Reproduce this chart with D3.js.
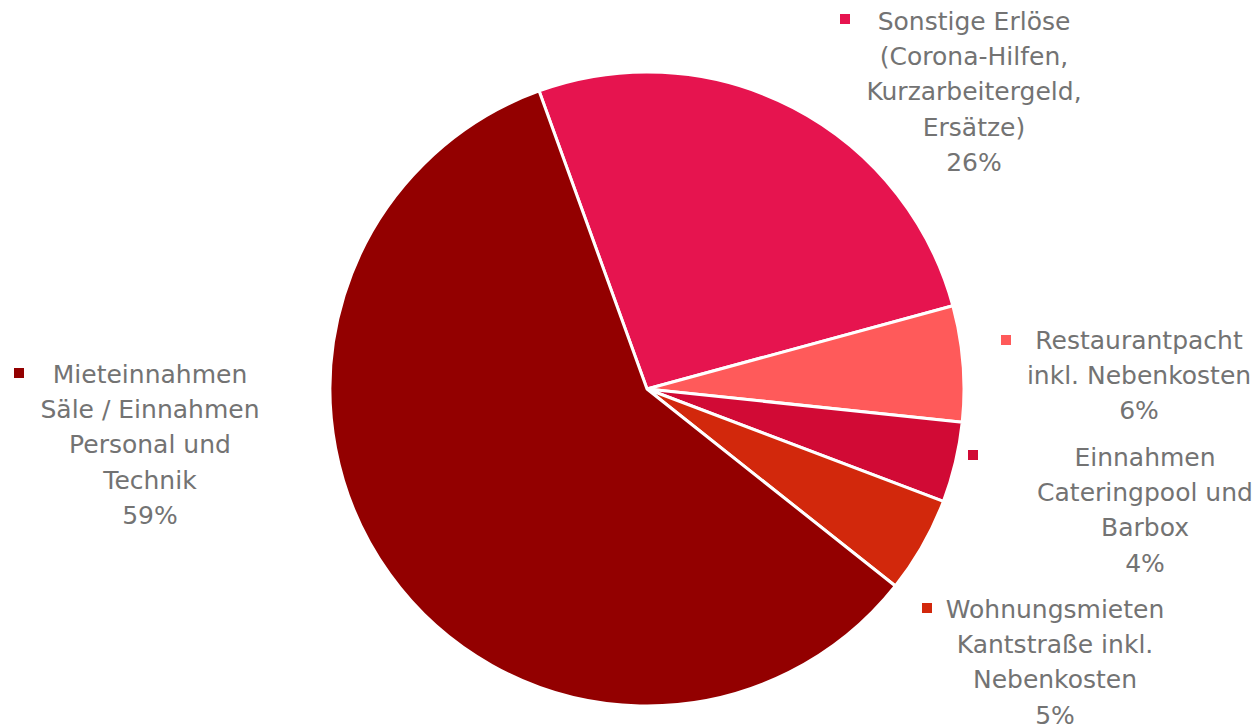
<!DOCTYPE html>
<html><head><meta charset="utf-8">
<script src="https://cdn.jsdelivr.net/npm/d3@7/dist/d3.min.js"></script>
<style>html,body{margin:0;padding:0;background:#fff;overflow:hidden}</style>
</head><body><svg id="c" width="1253" height="725"></svg>
<script>
const categories = [
  "Sonstige Erlöse (Corona-Hilfen, Kurzarbeitergeld, Ersätze)",
  "Restaurantpacht inkl. Nebenkosten",
  "Einnahmen Cateringpool und Barbox",
  "Wohnungsmieten Kantstraße inkl. Nebenkosten",
  "Mieteinnahmen Säle / Einnahmen Personal und Technik"
];
const values = [26.3, 5.9, 4.1, 4.9, 58.8];
const labelLines = [
  ["Sonstige Erlöse", "(Corona-Hilfen,", "Kurzarbeitergeld,", "Ersätze)"],
  ["Restaurantpacht", "inkl. Nebenkosten"],
  ["Einnahmen", "Cateringpool und", "Barbox"],
  ["Wohnungsmieten", "Kantstraße inkl.", "Nebenkosten"],
  ["Mieteinnahmen", "Säle / Einnahmen", "Personal und", "Technik"]
];
const colors = ["#E6144F", "#FF5A5A", "#D10A35", "#D2280C", "#930000"];

// layout (label block centre x, first line centre y, marker x,y)
const labelLayout = [
  {cx: 974, y: 21, mx: 845, my: 19},
  {cx: 1139, y: 340, mx: 1006, my: 340},
  {cx: 1145, y: 457, mx: 973, my: 455},
  {cx: 1055, y: 609, mx: 927, my: 608},
  {cx: 150, y: 374, mx: 19, my: 373}
];

const svg = d3.select("#c");
const cx = 647, cy = 389, r = 317;
const pie = d3.pie().sort(null).value(d => d)
  .startAngle(-19.9 * Math.PI / 180).endAngle((360 - 19.9) * Math.PI / 180);
const arcs = pie(values);
const arc = d3.arc().innerRadius(0).outerRadius(r);
const g = svg.append("g").attr("transform", `translate(${cx},${cy})`);
g.selectAll("path").data(arcs).join("path")
  .attr("d", arc).attr("fill", (d, i) => colors[i])
  .attr("stroke", "#fff").attr("stroke-width", 3).attr("stroke-linejoin", "round");

const lineH = 35.2;
const font = "'DejaVu Sans', sans-serif";
labelLayout.forEach((L, i) => {
  const lines = labelLines[i].concat([Math.round(values[i]) + "%"]);
  const t = svg.append("text").attr("text-anchor", "middle")
    .attr("font-family", font).attr("font-size", 25).attr("fill", "#737373");
  lines.forEach((s, k) => {
    t.append("tspan").attr("x", L.cx).attr("y", L.y + k * lineH).attr("dy", "0.36em").text(s);
  });
  svg.append("rect").attr("x", L.mx - 5).attr("y", L.my - 5).attr("width", 10).attr("height", 10)
    .attr("fill", colors[i]);
});
</script></body></html>
